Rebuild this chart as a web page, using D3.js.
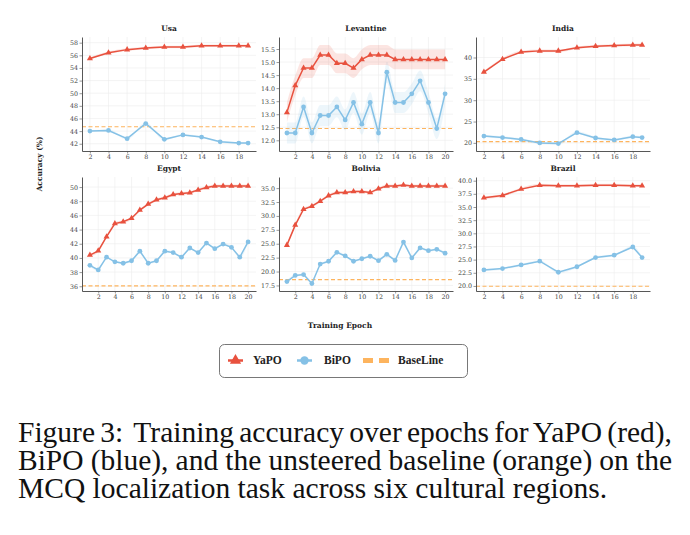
<!DOCTYPE html>
<html>
<head>
<meta charset="utf-8">
<script src="https://cdn.jsdelivr.net/npm/d3@7"></script>
<style>
	body { margin: 0; background: #fff; }
	svg { display: block; }
</style>
</head>
<body>
<div id="chart-area"></div>
<script>
// DATA
var regions = ['Usa', 'Levantine', 'India', 'Egypt', 'Bolivia', 'Brazil'];

var epochsSparse = [2, 4, 6, 8, 10, 12, 14, 16, 18, 19];
var epochsFull = [1, 2, 3, 4, 5, 6, 7, 8, 9, 10, 11, 12, 13, 14, 15, 16, 17, 18, 19, 20];

var usaYaPO = [55.5, 56.4, 56.9, 57.15, 57.3, 57.3, 57.5, 57.5, 57.5, 57.5];
var usaBiPO = [44.0, 44.1, 42.8, 45.2, 42.7, 43.4, 43.05, 42.3, 42.1, 42.1];

var levYaPO = [13.07, 14.1, 14.77, 14.77, 15.27, 15.27, 14.95, 14.95, 14.77, 15.1,
	15.27, 15.27, 15.27, 15.1, 15.1, 15.1, 15.1, 15.1, 15.1, 15.1];
var levBiPO = [12.28, 12.28, 13.28, 12.28, 12.95, 12.95, 13.28, 12.78, 13.45, 12.62,
	13.45, 12.28, 14.61, 13.45, 13.45, 13.78, 14.28, 13.45, 12.45, 13.78];

var indiaYaPO = [36.6, 39.6, 41.3, 41.55, 41.55, 42.3, 42.65, 42.8, 42.95, 42.95];
var indiaBiPO = [21.6, 21.25, 20.8, 20.0, 19.85, 22.4, 21.15, 20.7, 21.45, 21.25];

var egyptYaPO = [40.4, 41.0, 43.0, 44.85, 45.1, 45.6, 46.75, 47.6, 48.2, 48.5,
	48.95, 49.1, 49.2, 49.6, 49.95, 50.15, 50.15, 50.15, 50.15, 50.15];
var egyptBiPO = [38.95, 38.3, 40.1, 39.45, 39.25, 39.6, 40.95, 39.25, 39.6, 40.95,
	40.75, 40.1, 41.4, 40.75, 42.1, 41.3, 41.95, 41.5, 40.1, 42.25];

var boliviaYaPO = [24.75, 28.35, 31.2, 31.75, 32.65, 33.65, 34.2, 34.2, 34.4, 34.4,
	34.2, 34.9, 35.4, 35.4, 35.55, 35.4, 35.4, 35.4, 35.4, 35.4];
var boliviaBiPO = [18.2, 19.3, 19.45, 17.85, 21.35, 21.85, 23.45, 22.8, 21.85, 22.3,
	22.75, 21.95, 23.1, 22.0, 25.3, 22.45, 24.25, 23.75, 24.0, 23.3];

var brazilYaPO = [36.75, 37.2, 38.4, 39.15, 39.05, 39.05, 39.15, 39.15, 39.05, 39.05];
var brazilBiPO = [23.05, 23.3, 24.0, 24.7, 22.6, 23.65, 25.4, 25.85, 27.4, 25.4];

var baselines = [44.7, 12.45, 20.3, 36.05, 18.55, 19.95];

// spread of the shaded bands (half width, in accuracy units)
var yapoSpread = [0.2, 0.38, 0.3, 0.2, 0.25, 0.25];
var bipoSpread = [0.15, 0.4, 0.3, 0.15, 0.2, 0.2];

var yDomains = [[40.85, 58.9], [11.59, 15.96], [18.1, 44.8], [35.33, 51.42], [16.5, 37.0], [19.04, 40.7]];
var yTicks = [
	[42, 44, 46, 48, 50, 52, 54, 56, 58],
	[12.0, 12.5, 13.0, 13.5, 14.0, 14.5, 15.0, 15.5],
	[20, 25, 30, 35, 40],
	[36, 38, 40, 42, 44, 46, 48, 50],
	[17.5, 20.0, 22.5, 25.0, 27.5, 30.0, 32.5, 35.0],
	[20.0, 22.5, 25.0, 27.5, 30.0, 32.5, 35.0, 37.5, 40.0]
];
var yTickFormats = ['d', '.1f', 'd', 'd', '.1f', '.1f'];
var xTicks = [2, 4, 6, 8, 10, 12, 14, 16, 18, 20];

var legendLabels = ['YaPO', 'BiPO', 'BaseLine'];
var captionLines = [
	'Figure 3:  Training accuracy over epochs for YaPO (red),',
	'BiPO (blue), and the unsteered baseline (orange) on the',
	'MCQ localization task across six cultural regions.'
];

var panels = regions.map(function (r, i) {
	var sparse = (i === 0 || i === 2 || i === 5);
	var ya = [usaYaPO, levYaPO, indiaYaPO, egyptYaPO, boliviaYaPO, brazilYaPO][i];
	var bi = [usaBiPO, levBiPO, indiaBiPO, egyptBiPO, boliviaBiPO, brazilBiPO][i];
	var ep = sparse ? epochsSparse : epochsFull;
	return {
		name: r,
		epochs: ep,
		yapo: ya.map(function (v, k) { return { e: ep[k], v: v }; }),
		bipo: bi.map(function (v, k) { return { e: ep[k], v: v }; }),
		base: baselines[i],
		yapoSpread: yapoSpread[i],
		bipoSpread: bipoSpread[i],
		yDomain: yDomains[i],
		yTicks: yTicks[i],
		yFormat: yTickFormats[i]
	};
});

//INITIAL SETUP
var width = 690, height = 535;
var RED = '#e8513e', BLUE = '#85c1e6', ORANGE = '#fdb45e';
var serif = '"DejaVu Serif", serif';
var times = '"Liberation Serif", "Times New Roman", serif';

var svg = d3.select('#chart-area')
	.append('svg')
	.attr('width', width)
	.attr('height', height);

svg.append('rect').attr('width', width).attr('height', height).attr('fill', '#fff');

var colLeft = [82, 279, 476];
var rowTop = [37, 177];
var pw = 174, ph = 114;

panels.forEach(function (p, i) {
	var g = svg.append('g')
		.attr('transform', 'translate(' + colLeft[i % 3] + ',' + rowTop[Math.floor(i / 3)] + ')');

	var ext = d3.extent(p.epochs);
	var pad = (ext[1] - ext[0]) * 0.05;
	var x = d3.scaleLinear().domain([ext[0] - pad, ext[1] + pad]).range([0, pw]);
	var y = d3.scaleLinear().domain(p.yDomain).range([ph, 0]);
	var xt = xTicks.filter(function (t) { return t <= x.domain()[1]; });

	// grid
	g.append('g').selectAll('line').data(p.yTicks).enter().append('line')
		.attr('x1', 0).attr('x2', pw)
		.attr('y1', function (d) { return y(d); }).attr('y2', function (d) { return y(d); })
		.attr('stroke', '#ececec').attr('stroke-width', 0.6);
	g.append('g').selectAll('line').data(xt).enter().append('line')
		.attr('y1', 0).attr('y2', ph)
		.attr('x1', function (d) { return x(d); }).attr('x2', function (d) { return x(d); })
		.attr('stroke', '#ececec').attr('stroke-width', 0.6);

	// baseline
	g.append('line')
		.attr('x1', 0).attr('x2', pw)
		.attr('y1', y(p.base)).attr('y2', y(p.base))
		.attr('stroke', ORANGE).attr('stroke-width', 1.1)
		.attr('stroke-dasharray', '4,2.5');

	// bands
	[[p.bipo, p.bipoSpread, BLUE], [p.yapo, p.yapoSpread, RED]].forEach(function (s) {
		var band = d3.area()
			.x(function (d) { return x(d.e); })
			.y0(function (d) { return y(d.v - s[1]); })
			.y1(function (d) { return y(d.v + s[1]); })
			.curve(d3.curveMonotoneX);
		g.append('path').datum(s[0])
			.attr('d', band)
			.attr('fill', s[2]).attr('opacity', 0.15);
	});

	var line = d3.line()
		.x(function (d) { return x(d.e); })
		.y(function (d) { return y(d.v); });

	// BiPO
	g.append('path').datum(p.bipo)
		.attr('d', line)
		.attr('fill', 'none').attr('stroke', BLUE).attr('stroke-width', 1.5);
	g.append('g').selectAll('circle').data(p.bipo).enter().append('circle')
		.attr('cx', function (d) { return x(d.e); })
		.attr('cy', function (d) { return y(d.v); })
		.attr('r', 2.4)
		.attr('fill', BLUE);

	// YaPO
	g.append('path').datum(p.yapo)
		.attr('d', line)
		.attr('fill', 'none').attr('stroke', RED).attr('stroke-width', 1.5);
	g.append('g').selectAll('path').data(p.yapo).enter().append('path')
		.attr('d', d3.symbol(d3.symbolTriangle).size(16))
		.attr('transform', function (d) { return 'translate(' + x(d.e) + ',' + y(d.v) + ')'; })
		.attr('fill', RED);

	// axes
	var yAxis = d3.axisLeft(y)
		.tickValues(p.yTicks)
		.tickFormat(d3.format(p.yFormat))
		.tickSize(2.5)
		.tickSizeOuter(0);
	var xAxis = d3.axisBottom(x)
		.tickValues(xt)
		.tickFormat(d3.format('d'))
		.tickSize(2.5)
		.tickSizeOuter(0);
	var ya = g.append('g').call(yAxis);
	var xa = g.append('g').attr('transform', 'translate(0,' + ph + ')').call(xAxis);
	[ya, xa].forEach(function (a) {
		a.select('.domain').attr('stroke', '#444').attr('stroke-width', 0.9);
		a.selectAll('.tick line').attr('stroke', '#555').attr('stroke-width', 0.6);
		a.selectAll('.tick text')
			.attr('font-family', serif).attr('font-size', 6.3).attr('fill', '#444');
	});
	ya.selectAll('.tick text').attr('x', -4);
	xa.selectAll('.tick text').attr('y', 4);

	// title
	g.append('text')
		.attr('x', pw / 2).attr('y', -6)
		.attr('text-anchor', 'middle')
		.attr('font-family', serif).attr('font-weight', 'bold')
		.attr('font-size', 7.5).attr('fill', '#222')
		.text(p.name);
});

//LABELS
svg.append('text')
	.attr('transform', 'translate(42,164) rotate(-90)')
	.attr('text-anchor', 'middle')
	.attr('font-family', serif).attr('font-weight', 'bold')
	.attr('font-size', 7.5).attr('fill', '#222')
	.text('Accuracy (%)');

svg.append('text')
	.attr('x', 340).attr('y', 328)
	.attr('text-anchor', 'middle')
	.attr('font-family', serif).attr('font-weight', 'bold')
	.attr('font-size', 7.5).attr('fill', '#222')
	.text('Training Epoch');

//LEGEND
var legend = svg.append('g');
legend.append('rect')
	.attr('x', 219.5).attr('y', 344.5).attr('width', 248).attr('height', 33)
	.attr('rx', 5)
	.attr('fill', '#fff').attr('stroke', '#555').attr('stroke-width', 0.8);

var legendX = [228, 297, 363];
var legendTextX = [253, 324, 398];
var ly = 360.5;
legend.append('line')
	.attr('x1', legendX[0]).attr('x2', legendX[0] + 15).attr('y1', ly).attr('y2', ly)
	.attr('stroke', RED).attr('stroke-width', 2.5);
legend.append('path')
	.attr('d', d3.symbol(d3.symbolTriangle).size(55))
	.attr('transform', 'translate(' + (legendX[0] + 7.5) + ',' + ly + ')')
	.attr('fill', RED);
legend.append('line')
	.attr('x1', legendX[1]).attr('x2', legendX[1] + 15).attr('y1', ly).attr('y2', ly)
	.attr('stroke', BLUE).attr('stroke-width', 2.5);
legend.append('circle')
	.attr('cx', legendX[1] + 7.5).attr('cy', ly).attr('r', 4.2)
	.attr('fill', BLUE);
legend.append('line')
	.attr('x1', legendX[2]).attr('x2', legendX[2] + 27).attr('y1', ly).attr('y2', ly)
	.attr('stroke', ORANGE).attr('stroke-width', 5)
	.attr('stroke-dasharray', '10,6');

legend.selectAll('text.lab').data(legendLabels).enter().append('text')
	.attr('class', 'lab')
	.attr('x', function (d, i) { return legendTextX[i]; })
	.attr('y', ly + 3.8)
	.style('font-family', times).attr('font-weight', 'bold')
	.attr('font-size', 11.5).attr('fill', '#222')
	.text(function (d) { return d; });

//CAPTION (first two lines justified by word spacing, like the LaTeX original)
var capWidths = [654, 654, null];
var capY = [442, 470, 498];
svg.selectAll('text.cap').data(captionLines).enter().append('text')
	.attr('class', 'cap')
	.attr('x', 18)
	.attr('y', function (d, i) { return capY[i]; })
	.style('font-family', times)
	.style('font-size', '29.5px')
	.style('white-space', 'pre')
	.attr('fill', '#111')
	.text(function (d) { return d; })
	.each(function (d, i) {
		if (!capWidths[i]) return;
		var natural = this.getComputedTextLength();
		var gaps = d.split(' ').length - 1;
		d3.select(this).style('word-spacing', ((capWidths[i] - natural) / gaps) + 'px');
	});
</script>
</body>
</html>
